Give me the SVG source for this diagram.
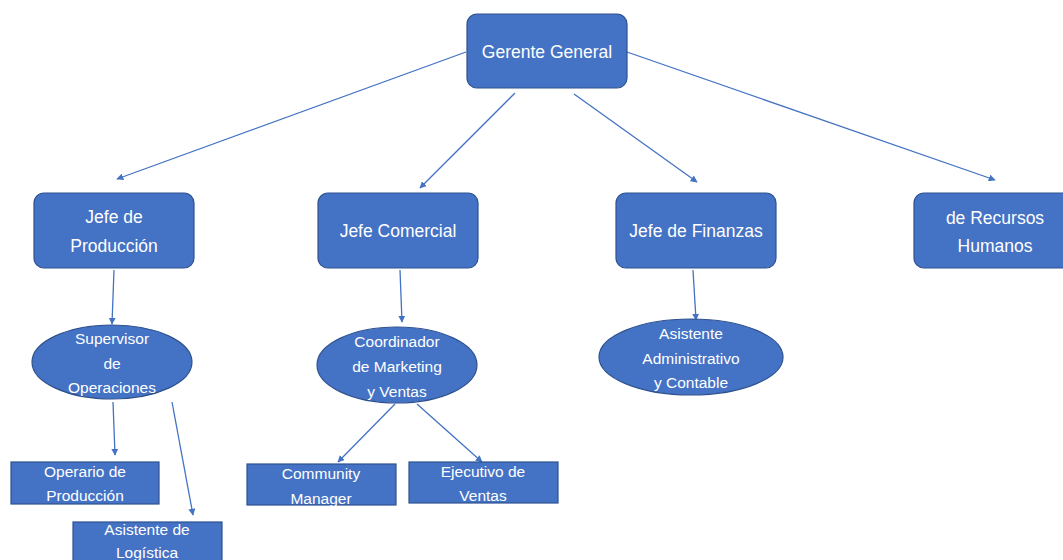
<svg xmlns="http://www.w3.org/2000/svg" width="1063" height="560" viewBox="0 0 1063 560">
<style>
.box{fill:#4472C4;stroke:#2F528F;stroke-width:1.2}
.t{font-family:"Liberation Sans",Arial,sans-serif;fill:#fff;text-anchor:middle;font-size:17.5px}
.s{font-size:15.5px}
.c{stroke:#4472C4;stroke-width:1.3;fill:none;marker-end:url(#ah)}
</style>
<defs>
<marker id="ah" viewBox="0 0 10 10" refX="9" refY="5" markerWidth="7" markerHeight="7" orient="auto" markerUnits="userSpaceOnUse">
<path d="M0,0 L10,5 L0,10 z" fill="#4472C4"/>
</marker>
</defs>
<rect width="1063" height="560" fill="#fff"/>
<g id="connectors">
<line class="c" x1="466" y1="52" x2="117" y2="179"/>
<line class="c" x1="515" y1="93" x2="420" y2="188"/>
<line class="c" x1="574" y1="94" x2="697" y2="182"/>
<line class="c" x1="627" y1="52" x2="995" y2="180"/>
<line class="c" x1="114" y1="270" x2="112" y2="324"/>
<line class="c" x1="113" y1="402" x2="115" y2="455"/>
<line class="c" x1="172" y1="402" x2="193" y2="515"/>
<line class="c" x1="400" y1="270" x2="402" y2="322"/>
<line class="c" x1="395" y1="404" x2="338" y2="462"/>
<line class="c" x1="417" y1="404" x2="482" y2="462"/>
<line class="c" x1="693" y1="270" x2="696" y2="320"/>
</g>
<g id="gerente">
<rect class="box" x="467" y="14" width="160" height="74" rx="10"/>
<text class="t" x="547" y="58">Gerente General</text>
</g>
<g id="jefe-produccion">
<rect class="box" x="34" y="193" width="160" height="75" rx="10"/>
<text class="t" x="114" y="223">Jefe de</text>
<text class="t" x="114" y="252">Producción</text>
</g>
<g id="jefe-comercial">
<rect class="box" x="318" y="193" width="160" height="75" rx="10"/>
<text class="t" x="398" y="237">Jefe Comercial</text>
</g>
<g id="jefe-finanzas">
<rect class="box" x="616" y="193" width="160" height="75" rx="10"/>
<text class="t" x="696" y="237">Jefe de Finanzas</text>
</g>
<g id="recursos-humanos">
<rect class="box" x="914" y="193" width="160" height="75" rx="10"/>
<text class="t" x="995" y="224">de Recursos</text>
<text class="t" x="995" y="252">Humanos</text>
</g>
<g id="supervisor">
<ellipse class="box" cx="112" cy="362" rx="80" ry="37"/>
<text class="t s" x="112" y="344">Supervisor</text>
<text class="t s" x="112" y="369">de</text>
<text class="t s" x="112" y="393">Operaciones</text>
</g>
<g id="coordinador">
<ellipse class="box" cx="397" cy="365" rx="80" ry="38"/>
<text class="t s" x="397" y="347">Coordinador</text>
<text class="t s" x="397" y="372">de Marketing</text>
<text class="t s" x="397" y="397">y Ventas</text>
</g>
<g id="asistente-admin">
<ellipse class="box" cx="691" cy="357" rx="92" ry="38"/>
<text class="t s" x="691" y="339">Asistente</text>
<text class="t s" x="691" y="364">Administrativo</text>
<text class="t s" x="691" y="388">y Contable</text>
</g>
<g id="operario">
<rect class="box" x="11" y="462" width="148" height="42"/>
<text class="t s" x="85" y="477">Operario de</text>
<text class="t s" x="85" y="501">Producción</text>
</g>
<g id="asistente-logistica">
<rect class="box" x="73" y="522" width="149" height="45"/>
<text class="t s" x="147" y="535">Asistente de</text>
<text class="t s" x="147" y="558">Logística</text>
</g>
<g id="community">
<rect class="box" x="247" y="464" width="149" height="41"/>
<text class="t s" x="321" y="479">Community</text>
<text class="t s" x="321" y="504">Manager</text>
</g>
<g id="ejecutivo">
<rect class="box" x="409" y="462" width="149" height="41"/>
<text class="t s" x="483" y="477">Ejecutivo de</text>
<text class="t s" x="483" y="501">Ventas</text>
</g>
</svg>
